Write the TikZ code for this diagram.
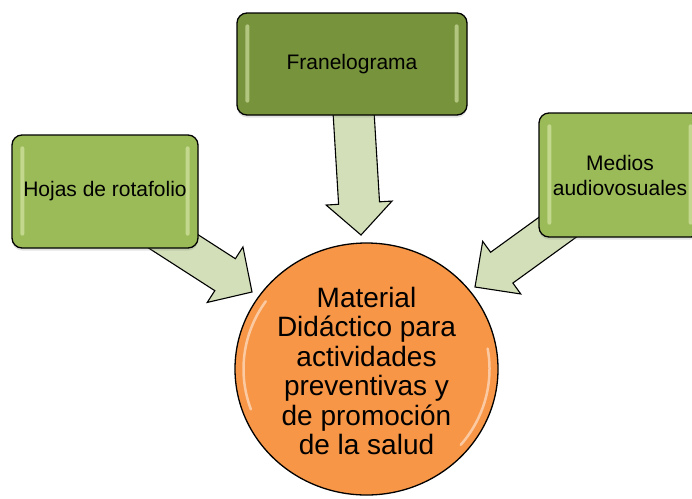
\documentclass[tikz,border=0pt]{standalone}
\usepackage{fontspec}
\setmainfont{Liberation Sans}
\usetikzlibrary{calc,shapes.geometric,shadows}
\definecolor{darkolive}{HTML}{77933C}
\definecolor{midgreen}{HTML}{9BBB59}
\definecolor{paleg}{HTML}{D2DFB8}
\definecolor{hiliteg}{HTML}{E4F0B8}
\definecolor{orangefill}{HTML}{F79646}
\tikzset{
  boxstyle/.style={draw=black, line width=1.3pt, rounded corners=10pt,
    inner sep=0pt,
    drop shadow={opacity=0.22, shadow xshift=0pt, shadow yshift=-2.5pt}},
  boxtext/.style={align=center, font=\fontsize{21}{25}\selectfont, inner sep=0pt},
  arrowstyle/.style={draw=black, line width=1.1pt, fill=paleg, line join=miter},
  circstyle/.style={ellipse, draw=black, line width=1.3pt, fill=orangefill, inner sep=0pt},
  circtext/.style={align=center, font=\fontsize{28}{29.5}\selectfont, inner sep=0pt},
  strip/.style={fill=hiliteg, opacity=0.55, rounded corners=2pt},
  glow/.style={draw=white, opacity=0.5, line width=2.5pt, line cap=round}
}
\newcommand{\blockarrow}[5]{%
  \coordinate (hb) at ($(#2)!#5!(#1)$);
  \draw[arrowstyle] (#2) -- ($(hb)!#4!90:(#2)$) -- ($(hb)!#3!90:(#2)$)
    -- ($(#1)!#3!90:(#2)$) -- ($(#1)!#3!-90:(#2)$) -- ($(hb)!#3!-90:(#2)$)
    -- ($(hb)!#4!-90:(#2)$) -- cycle;
}
\newcommand{\boxstrips}[1]{%
  \fill[strip] ($(#1.north west)+(9,12)$) rectangle ($(#1.south west)+(13,-13)$);
  \fill[strip] ($(#1.north east)+(-13,12)$) rectangle ($(#1.south east)+(-9,-13)$);
}
\begin{document}
\begin{tikzpicture}[x=1pt,y=-1pt]
\useasboundingbox (0,0) rectangle (692,498);
\clip (0,0) rectangle (692,498);
\fill[white] (0,0) rectangle (692,498);

\coordinate (franc) at (352,64);
\coordinate (hojasc) at (105,191.5);
\coordinate (medc) at (620,175);
\coordinate (matc) at (366.5,369);

\coordinate (t1) at (361,235);
\coordinate (s1) at (352.8,100);
\coordinate (t2) at (252,292);
\coordinate (s2) at (151,227);
\coordinate (t3) at (475,287);
\coordinate (s3) at (580,211);

\blockarrow{s1}{t1}{20.5pt}{33pt}{32pt}
\blockarrow{s2}{t2}{19pt}{33pt}{32pt}
\blockarrow{s3}{t3}{19pt}{32.5pt}{33pt}

\node[boxstyle, fill=darkolive, minimum width=230pt, minimum height=102pt] (fran) at (franc) {};
\boxstrips{fran}
\node[boxtext] (frant) at (fran) {Franelograma};

\node[boxstyle, fill=midgreen, minimum width=186pt, minimum height=113pt] (hojas) at (hojasc) {};
\boxstrips{hojas}
\node[boxtext] (hojast) at (hojas) {Hojas de rotafolio};

\node[boxstyle, fill=midgreen, minimum width=162pt, minimum height=124pt] (medios) at (medc) {};
\boxstrips{medios}
\node[boxtext] (mediost) at (medios) {Medios\\audiovosuales};

\node[circstyle, minimum width=263pt, minimum height=252pt] (mat) at (matc) {};
\draw[glow] ($(mat.center)+(160:123 and 118)$) arc[start angle=160, end angle=215, x radius=123, y radius=118];
\draw[glow] ($(mat.center)+(-10:123 and 118)$) arc[start angle=-10, end angle=40, x radius=123, y radius=118];
\node[circtext] (matt) at ($(mat.center)+(0,2)$)
  {Material\\Didáctico para\\actividades\\preventivas y\\de promoción\\de la salud};
\end{tikzpicture}
\end{document}
